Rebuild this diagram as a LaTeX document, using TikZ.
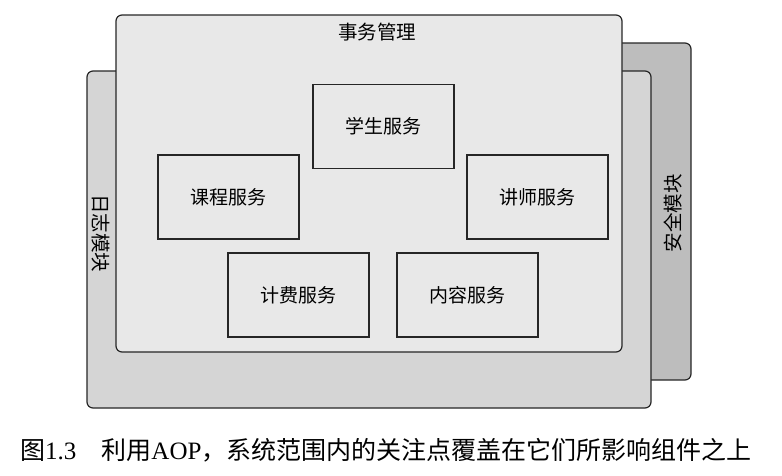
\documentclass[tikz,border=0pt]{standalone}
\usepackage{fontspec}
\setmainfont{Noto Sans CJK SC}
\newfontfamily\latinfont{Liberation Serif}
\usepackage{xcolor}

\definecolor{backgray}{HTML}{BDBDBD}
\definecolor{midgray}{HTML}{D5D5D5}
\definecolor{frontgray}{HTML}{E8E8E8}
\definecolor{edgegray}{HTML}{262626}

\tikzset{
  layer/.style={draw=edgegray, line width=1.2pt, rounded corners=6pt},
  service/.style={draw=edgegray, line width=1.2pt, fill=frontgray,
    minimum width=141pt, minimum height=84pt, inner sep=0pt,
    font=\fontsize{19}{19}\selectfont},
  layerlabel/.style={inner sep=0pt, font=\fontsize{19.5}{19.5}\selectfont}
}

\begin{document}
\begin{tikzpicture}[x=1pt,y=-1pt]
\useasboundingbox (0,0) rectangle (782,475);
% Security layer
\filldraw[layer,fill=backgray] (300,43) rectangle (691,380);
\node[layerlabel,rotate=90] (security) at (673,213) {安全模块};
% Logging layer
\filldraw[layer,fill=midgray] (87,71) rectangle (651,408);
\node[layerlabel,rotate=-90] (logging) at (101,233) {日志模块};
% Transaction layer
\filldraw[layer,fill=frontgray] (116,15) rectangle (622,352);
\node[layerlabel] (transaction) at (377,32) {事务管理};
% Services
\node[service] (student) at (383.5,126.5) {学生服务};
\node[service] (course) at (228.5,197) {课程服务};
\node[service] (teacher) at (537.5,197) {讲师服务};
\node[service] (billing) at (298.5,295) {计费服务};
\node[service] (content) at (467.5,295) {内容服务};
% Caption
\node[anchor=west, inner sep=0pt, font=\fontsize{25}{25}\selectfont] (caption) at (20,450)
  {图{\latinfont 1.3}　利用{\latinfont AOP}，系统范围内的关注点覆盖在它们所影响组件之上};
\end{tikzpicture}
\end{document}
